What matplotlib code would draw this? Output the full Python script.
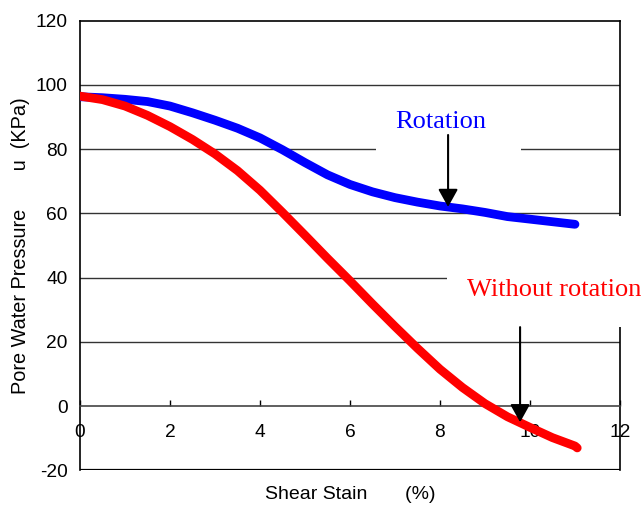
import matplotlib
matplotlib.use('Agg')
import matplotlib.pyplot as plt
from matplotlib.patches import Rectangle

# shear strain (%) and pore water pressure (kPa)
strain_rot = [0, 0.5, 1, 1.5, 2, 2.5, 3, 3.5, 4, 4.5, 5, 5.5, 6, 6.5, 7, 7.5,
              8, 8.5, 9, 9.5, 10, 10.5, 11]
pwp_rot = [96.3, 96.0, 95.5, 94.8, 93.4, 91.3, 89.0, 86.5, 83.5, 79.8, 75.8,
           72.0, 69.0, 66.7, 64.9, 63.5, 62.3, 61.4, 60.3, 59.0, 58.2, 57.4, 56.6]

strain_norot = [0, 0.5, 1, 1.5, 2, 2.5, 3, 3.5, 4, 4.5, 5, 5.5, 6, 6.5, 7,
                7.5, 8, 8.5, 9, 9.5, 10, 10.5, 11, 11.05]
pwp_norot = [96.5, 95.4, 93.4, 90.5, 87.0, 83.0, 78.5, 73.3, 67.2, 60.3, 53.2,
             46.0, 39.0, 31.8, 24.8, 18.0, 11.5, 5.8, 0.8, -3.3, -6.6, -9.8,
             -12.4, -13.0]

label_rot = 'Rotation'
label_norot = 'Without rotation'
arrow_rot = ((8.18, 84.4), (8.18, 62.0))      # start, tip
arrow_norot = ((9.78, 24.6), (9.78, -5.0))

xticks = [0, 2, 4, 6, 8, 10, 12]
yticks = [-20, 0, 20, 40, 60, 80, 100, 120]

fig = plt.figure(figsize=(6.44, 5.11), dpi=100)
ax = fig.add_axes([0.1242, 0.0794, 0.8385, 0.8803])

sans = 'Liberation Sans'
serif = 'Liberation Serif'

for y in [20, 40, 60, 80, 100]:
    ax.axhline(y, color='#333333', lw=1.0, zorder=1)
ax.axhline(-20, color='black', lw=1.6, zorder=2.5)

ax.plot(strain_rot, pwp_rot, color='#0000ff', lw=6.3,
        solid_capstyle='round', solid_joinstyle='round', zorder=4)
ax.plot(strain_norot, pwp_norot, color='#ff0000', lw=6.3,
        solid_capstyle='round', solid_joinstyle='round', zorder=4)

ax.set_xlim(0, 12)
ax.set_ylim(-20, 120)

ax.spines['bottom'].set_position(('data', 0))
for s in ['left', 'right', 'top', 'bottom']:
    ax.spines[s].set_linewidth(1.2)
    ax.spines[s].set_color('black')
ax.spines['bottom'].set_color('#444444')

ax.set_xticks(xticks)
ax.set_yticks(yticks)
ax.set_xticklabels([str(t) for t in xticks], fontfamily=sans, fontsize=13.8)
ax.set_yticklabels([str(t) for t in yticks], fontfamily=sans, fontsize=13.8)
ax.tick_params(axis='x', direction='in', length=4, width=1, pad=12.5)
ax.tick_params(axis='y', length=0, pad=9)

# white masks like the original text boxes
ax.add_patch(Rectangle((0.5839, 0.6967), 0.2252, 0.1076, transform=fig.transFigure,
                       facecolor='white', edgecolor='none', zorder=3, clip_on=False))
ax.add_patch(Rectangle((0.694, 0.360), 0.31, 0.217, transform=fig.transFigure,
                       facecolor='white', edgecolor='none', zorder=3, clip_on=False))

ax.text(8.02, 88.5, label_rot, color='#0000ff', fontfamily=serif, fontsize=19,
        ha='center', va='center', zorder=5)
ax.text(8.6, 36.1, label_norot, color='#ff0000', fontfamily=serif, fontsize=19,
        ha='left', va='center', zorder=5, clip_on=False)

for start, tip in [arrow_rot, arrow_norot]:
    ax.annotate('', xy=tip, xytext=start,
                arrowprops=dict(arrowstyle='-|>,head_length=0.9,head_width=0.5',
                                color='black', lw=1.5, mutation_scale=12,
                                shrinkA=0, shrinkB=0), zorder=6)

ax.set_xlabel('Shear Stain       (%)', fontfamily=sans, fontsize=14)
ax.xaxis.set_label_coords(0.5, -0.035)
ax.set_ylabel('Pore Water Pressure       u  (KPa)', fontfamily=sans, fontsize=14.3)
ax.yaxis.set_label_coords(-0.111, 0.5)
ax.yaxis.label.set_va('center')

fig.savefig('out.png', dpi=100)
